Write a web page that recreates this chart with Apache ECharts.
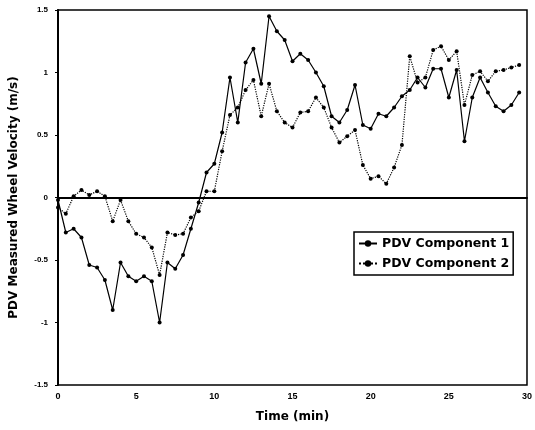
<!DOCTYPE html>
<html>
<head>
<meta charset="utf-8">
<script src="https://cdn.jsdelivr.net/npm/echarts@6/dist/echarts.min.js"></script>
<style>
html,body{margin:0;padding:0;background:#fff;}
#chart{width:535px;height:430px;}
</style>
</head>
<body>
<div id="chart"></div>
<script>
const timeMin = [0,0.5,1,1.5,2,2.5,3,3.5,4,4.5,5,5.5,6,6.5,7,7.5,8,8.5,9,9.5,
  10,10.5,11,11.5,12,12.5,13,13.5,14,14.5,15,15.5,16,16.5,17,17.5,18,18.5,19,19.5,
  20,20.5,21,21.5,22,22.5,23,23.5,24,24.5,25,25.5,26,26.5,27,27.5,28,28.5,29,29.5];
const component1 = [-0.02,-0.28,-0.25,-0.32,-0.54,-0.56,-0.66,-0.90,-0.52,-0.63,
  -0.67,-0.63,-0.67,-1.00,-0.52,-0.57,-0.46,-0.25,-0.04,0.20,
  0.27,0.52,0.96,0.60,1.08,1.19,0.91,1.45,1.33,1.26,
  1.09,1.15,1.10,1.00,0.89,0.65,0.60,0.70,0.90,0.58,
  0.55,0.67,0.65,0.72,0.81,0.86,0.96,0.88,1.03,1.03,
  0.80,1.02,0.45,0.80,0.96,0.84,0.73,0.69,0.74,0.84];
const component2 = [-0.08,-0.13,0.01,0.06,0.02,0.05,0.01,-0.19,-0.02,-0.19,
  -0.29,-0.32,-0.40,-0.62,-0.28,-0.30,-0.29,-0.16,-0.11,0.05,
  0.05,0.37,0.66,0.72,0.86,0.94,0.65,0.91,0.69,0.60,
  0.56,0.68,0.69,0.80,0.72,0.56,0.44,0.49,0.54,0.26,
  0.15,0.17,0.11,0.24,0.42,1.13,0.92,0.96,1.18,1.21,
  1.10,1.17,0.74,0.98,1.01,0.93,1.01,1.02,1.04,1.06];
const seriesNames = ['PDV Component 1','PDV Component 2'];
const xTicks = {min:0, max:30, interval:5};
const yTicks = {min:-1.5, max:1.5, interval:0.5};

const FONT = '"Liberation Sans", Arial, sans-serif';
const WIDE = '"DejaVu Sans", "Liberation Sans", sans-serif';
const chart = echarts.init(document.getElementById('chart'), null, {renderer:'canvas'});
chart.setOption({
  backgroundColor:'#fff',
  animation:false,
  grid:{left:54, right:5, top:10, bottom:45, show:true, borderColor:'#000', borderWidth:1.5, backgroundColor:'#fff'},
  xAxis:{
    type:'value', min:xTicks.min, max:xTicks.max, interval:xTicks.interval,
    name:'Time (min)', nameLocation:'middle', nameGap:26,
    nameTextStyle:{fontFamily:WIDE, fontWeight:'bold', fontSize:12, color:'#000'},
    axisLine:{show:true, lineStyle:{color:'#000', width:2}},
    axisTick:{show:false},
    axisLabel:{fontFamily:FONT, fontWeight:'bold', fontSize:9, color:'#000', margin:7},
    splitLine:{show:false}
  },
  yAxis:{
    type:'value', min:yTicks.min, max:yTicks.max, interval:yTicks.interval,
    name:'PDV Measured Wheel Velocity (m/s)', nameLocation:'middle', nameGap:38,
    nameTextStyle:{fontFamily:WIDE, fontWeight:'bold', fontSize:12, color:'#000'},
    axisLine:{show:true, lineStyle:{color:'#000', width:2}},
    axisTick:{show:true, length:3, lineStyle:{color:'#000', width:1}},
    axisLabel:{fontFamily:FONT, fontWeight:'bold', fontSize:8, color:'#000', margin:10},
    splitLine:{show:false}
  },
  legend:{
    orient:'vertical', left:354, top:232,
    backgroundColor:'#fff', borderColor:'#000', borderWidth:1.5, borderRadius:0,
    padding:[5,4,5,4], itemGap:7, itemWidth:18, itemHeight:8,
    textStyle:{fontFamily:WIDE, fontWeight:'bold', fontSize:12.5, color:'#000'},
    data:seriesNames
  },
  series:[
    {
      name:seriesNames[0], type:'line',
      data:timeMin.map((t,i)=>[t,component1[i]]),
      symbol:'circle', symbolSize:4,
      lineStyle:{color:'#000', width:1.2, type:'solid'},
      itemStyle:{color:'#000'},
      z:3,
      markLine:{
        silent:true, symbol:'none', label:{show:false},
        lineStyle:{color:'#000', width:1.8, type:'solid'},
        data:[{yAxis:0}]
      }
    },
    {
      name:seriesNames[1], type:'line',
      data:timeMin.map((t,i)=>[t,component2[i]]),
      symbol:'circle', symbolSize:4,
      lineStyle:{color:'#000', width:1.2, type:'dotted'},
      itemStyle:{color:'#000'},
      z:2
    }
  ]
});
</script>
</body>
</html>
